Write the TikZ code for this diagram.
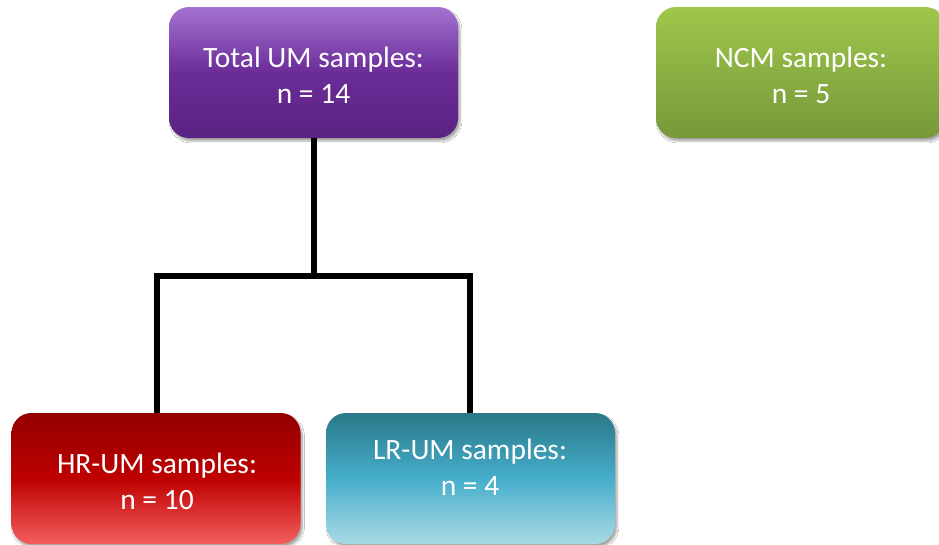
\documentclass[tikz,border=0pt]{standalone}
\usepackage{fontspec}
\setmainfont{Carlito}
\usetikzlibrary{shadows.blur}
\definecolor{puTop}{HTML}{A472D2}
\definecolor{puMid}{HTML}{6B2C98}
\definecolor{puBot}{HTML}{5A2382}
\definecolor{grTop}{HTML}{9FC74B}
\definecolor{grBot}{HTML}{76983A}
\definecolor{rdTop}{HTML}{930000}
\definecolor{rdMid}{HTML}{BE0000}
\definecolor{rdBot}{HTML}{F55E5E}
\definecolor{tlTop}{HTML}{2A7889}
\definecolor{tlMid}{HTML}{46AECB}
\definecolor{tlBot}{HTML}{AADAE6}
\tikzset{
  x=1pt, y=1pt,
  box/.style={rounded corners=20pt, minimum width=289pt, minimum height=131pt,
    inner sep=0pt, draw=none,
    blur shadow={shadow xshift=2pt, shadow yshift=-3pt, shadow blur steps=6, shadow opacity=35}},
  lbl/.style={text=white, font=\fontsize{29.5}{36}\selectfont, align=center},
  conn/.style={line width=6pt, black}
}
\begin{document}
\begin{tikzpicture}
\clip (0,0) rectangle (939,-544);
\fill[white] (0,0) rectangle (939,-544);
% boxes
\node[box, top color=puTop, bottom color=puBot, middle color=puMid] (total) at (313.5,-72.5) {};
\node[box, top color=grTop, bottom color=grBot] (ncm) at (800.5,-72.5) {};
\node[box, top color=rdTop, bottom color=rdBot, middle color=rdMid] (hr) at (156,-478.5) {};
\node[box, top color=tlTop, bottom color=tlBot, middle color=tlMid] (lr) at (470.5,-478.5) {};
% texts
\node[lbl] (totalT) at (313.5,-75) {Total UM samples:\\n = 14};
\node[lbl] (ncmT) at (801,-75) {NCM samples:\\n = 5};
\node[lbl] (hrT) at (157,-481) {HR-UM samples:\\n = 10};
\node[lbl] (lrT) at (470,-467) {LR-UM samples:\\n = 4};
% connectors
\coordinate (junc) at (313.5,-276);
\draw[conn] (total.south) -- (junc);
\draw[conn, line join=miter] (hr.north -| hrT) -- (hrT |- junc) -- (lrT |- junc) -- (lr.north -| lrT);
\end{tikzpicture}
\end{document}
